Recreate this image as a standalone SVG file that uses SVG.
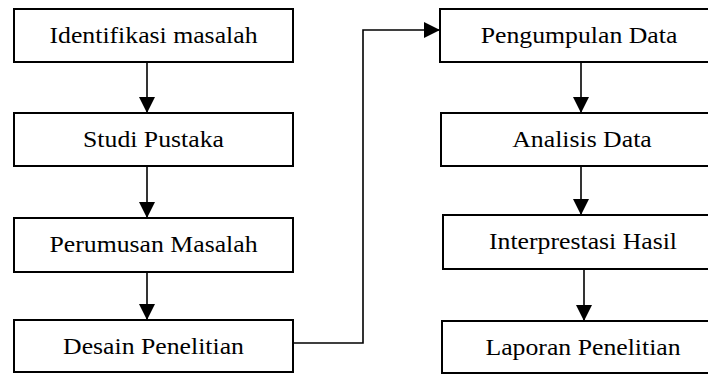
<svg xmlns="http://www.w3.org/2000/svg" width="708" height="374" viewBox="0 0 708 374">
<style>
.box{fill:#fff;stroke:#000;stroke-width:2}
.lbl{font-family:"Liberation Serif","Times New Roman",serif;font-size:23px;fill:#000;text-anchor:middle}
.ln{fill:none;stroke:#000;stroke-width:1.6}
</style>
<defs>
<marker id="ah" markerUnits="userSpaceOnUse" markerWidth="16" markerHeight="16" viewBox="0 0 16 16" refX="16" refY="8" orient="auto">
<path d="M0,0 L16,8 L0,16 Z" fill="#000"/>
</marker>
</defs>
<rect width="708" height="374" fill="#fff"/>
<g id="connectors">
<line class="ln" x1="147" y1="62" x2="147" y2="113" marker-end="url(#ah)"/>
<line class="ln" x1="147" y1="166" x2="147" y2="218" marker-end="url(#ah)"/>
<line class="ln" x1="147" y1="272" x2="147" y2="320" marker-end="url(#ah)"/>
<polyline class="ln" points="293,343 363,343 363,30 440,30" marker-end="url(#ah)"/>
<line class="ln" x1="581" y1="62" x2="581" y2="113" marker-end="url(#ah)"/>
<line class="ln" x1="581" y1="166" x2="581" y2="215" marker-end="url(#ah)"/>
<line class="ln" x1="584" y1="269" x2="584" y2="321" marker-end="url(#ah)"/>
</g>
<g id="n1"><rect class="box" x="14" y="9" width="279" height="53"/><text class="lbl" transform="translate(153.5,43) scale(1.12,1)">Identifikasi masalah</text></g>
<g id="n2"><rect class="box" x="14" y="113" width="279" height="53"/><text class="lbl" transform="translate(153.5,147) scale(1.12,1)">Studi Pustaka</text></g>
<g id="n3"><rect class="box" x="14" y="218" width="279" height="54"/><text class="lbl" transform="translate(153.5,252) scale(1.12,1)">Perumusan Masalah</text></g>
<g id="n4"><rect class="box" x="14" y="320" width="279" height="52"/><text class="lbl" transform="translate(153.5,354) scale(1.12,1)">Desain Penelitian</text></g>
<g id="n5"><rect class="box" x="440" y="9" width="280" height="53"/><text class="lbl" transform="translate(579,43) scale(1.12,1)">Pengumpulan Data</text></g>
<g id="n6"><rect class="box" x="441" y="113" width="280" height="53"/><text class="lbl" transform="translate(582,147) scale(1.12,1)">Analisis Data</text></g>
<g id="n7"><rect class="box" x="443" y="215" width="280" height="54"/><text class="lbl" transform="translate(583,249) scale(1.12,1)">Interprestasi Hasil</text></g>
<g id="n8"><rect class="box" x="442" y="321" width="280" height="52"/><text class="lbl" transform="translate(583,355) scale(1.12,1)">Laporan Penelitian</text></g>
</svg>
